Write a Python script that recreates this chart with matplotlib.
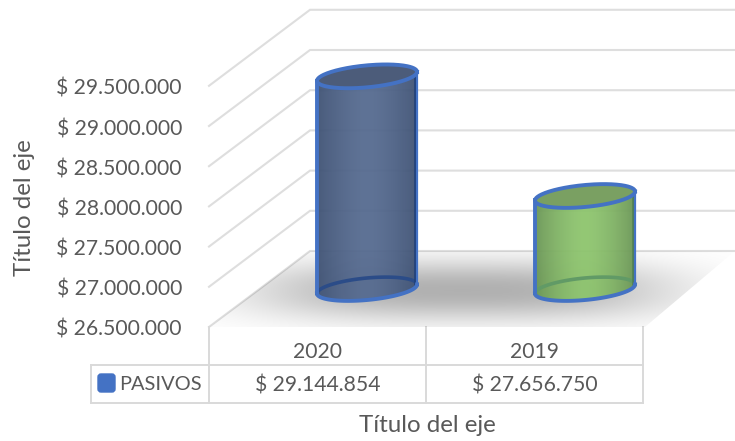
import numpy as np
import matplotlib
matplotlib.use("Agg")
import matplotlib.pyplot as plt
from matplotlib.patches import Polygon, FancyBboxPatch

categories = ["2020", "2019"]
values = [29144854, 27656750]
ticks = [26500000, 27000000, 27500000, 28000000, 28500000, 29000000, 29500000]
series_name = "PASIVOS"
axis_title = "Título del eje"
edge_color = "#4472c4"
dark_edges = ["#1f3f78", "#4f7f52"]
rear_arc = ["#2b4c88", "#619a66"]
mid_cols = ["#566b90", "#8ec56e"]
side_cols = ["#3f5274", "#6a9556"]
top_cols = ["#4c5c7a", "#7aa062"]

W, H = 735, 441
plt.rcParams["font.family"] = ["Lato", "DejaVu Sans"]
fig = plt.figure(figsize=(W / 100, H / 100), dpi=100)
txt = "#595959"
grid = "#dedede"
FS = 15.2

pa = fig.add_axes([0, 0, 1, 1])
pa.set_xlim(0, W); pa.set_ylim(H, 0); pa.axis("off")

PX_PER_UNIT = 40.2 / 500000
x0, dx, dy = 209, 101, 76
front_base = 327
def ypx(v):
    return front_base - (v - ticks[0]) * PX_PER_UNIT

for t in ticks:
    y = ypx(t)
    pa.plot([x0, x0 + dx, W], [y, y - dy, y - dy], color=grid, lw=1.5, zorder=1, solid_joinstyle="miter")

floor = Polygon([(x0, front_base), (x0 + dx, front_base - dy), (W, front_base - dy), (645, front_base)],
                closed=True, fc="white", ec="none", zorder=0.5)
pa.add_patch(floor)
xx, yy = np.meshgrid(np.arange(W), np.arange(H))
sh = np.exp(-(np.abs(xx - 462) / 210.0) ** 3.0)
sv = np.exp(-(np.abs(yy - 290) / 30.0) ** 2.2)
alpha = np.clip(sh * sv * 0.31, 0, 1)
img = np.zeros((H, W, 4)); img[..., 3] = alpha
im = pa.imshow(img, extent=(0, W, H, 0), zorder=1.5, aspect="auto", interpolation="bilinear")
clip_floor = Polygon(floor.get_xy(), closed=True, transform=pa.transData)
im.set_clip_path(clip_floor)
pa.set_xlim(0, W); pa.set_ylim(H, 0)

for t in ticks:
    pa.text(182, ypx(t) + 3, "$ " + f"{t:,}".replace(",", "."), ha="right", va="center",
            fontsize=FS, color=txt)

tc = "#d9d9d9"
for xv in (209, 426, 643):
    pa.plot([xv, xv], [327, 403], color=tc, lw=1.4, zorder=1)
pa.plot([91, 91], [365, 403], color=tc, lw=1.4)
pa.plot([91, 643], [365, 365], color=tc, lw=1.4)
pa.plot([91, 643], [403, 403], color=tc, lw=1.4)
for i, (c, v) in enumerate(zip(categories, values)):
    xc = 318 + i * 216.5
    pa.text(xc, 352, c, ha="center", va="center", fontsize=FS, color=txt)
    pa.text(xc, 385, "$ " + f"{v:,}".replace(",", "."), ha="center", va="center", fontsize=FS, color=txt)
pa.add_patch(FancyBboxPatch((98, 374), 17, 18, boxstyle="round,pad=0,rounding_size=3", fc=edge_color, ec=edge_color, lw=1))
pa.text(119, 385, series_name, ha="left", va="center", fontsize=14.4, color=txt)
pa.text(427, 426, axis_title, ha="center", va="center", fontsize=17.4, color=txt)
pa.text(25, 208, axis_title, ha="center", va="center", rotation=90, fontsize=17.4, color=txt)

ax = fig.add_axes([0, 0, 1, 1], facecolor="none")
ax.axis("off")
sx = 218.0
xl = (-367 / sx, (W - 367) / sx)
bar_base_px = 289
yb = ticks[0] - (H - bar_base_px) / PX_PER_UNIT
yt = ticks[0] + bar_base_px / PX_PER_UNIT
ax.set_xlim(xl); ax.set_ylim(yb, yt)

ahw = 50 / sx
tilt, minor = 4.5 / PX_PER_UNIT, 11.0 / PX_PER_UNIT
t = np.linspace(0, 2 * np.pi, 200)

def ell(i, v, tt):
    return i + ahw * np.cos(tt), v + tilt * np.cos(tt) + minor * np.sin(tt)

def rgb(h):
    return np.array(matplotlib.colors.to_rgb(h))

base = ticks[0]
for i, v in enumerate(values):
    n = 200
    u = np.linspace(-1, 1, n)
    w = (1 - np.abs(u) ** 1.6)[None, :, None]
    rgba = np.zeros((1, n, 4))
    rgba[..., :3] = rgb(side_cols[i]) * (1 - w) + rgb(mid_cols[i]) * w
    rgba[..., 3] = 0.95
    img = ax.imshow(rgba, extent=(i - ahw, i + ahw, base - minor - tilt, v + minor + tilt),
                    aspect="auto", zorder=3, interpolation="bilinear")
    bx, by = ell(i, base, np.linspace(np.pi, 2 * np.pi, 80))
    tx, ty = ell(i, v, np.linspace(0, np.pi, 80))
    body = Polygon(np.column_stack([np.r_[bx, tx], np.r_[by, ty]]), closed=True, transform=ax.transData)
    img.set_clip_path(body)
    ax.plot(*ell(i, base, np.linspace(0, np.pi, 80)), color=rear_arc[i], lw=2.6, zorder=4)
    rx = i + ahw
    ax.plot([rx - 2.4 / sx] * 2, [base + tilt, v + tilt], color=dark_edges[i], lw=1.8, zorder=4)
    ex, ey = ell(i, v, t)
    ax.fill(ex, ey, color=top_cols[i], zorder=5)
    ax.plot(ex, ey, color=edge_color, lw=2.8, zorder=7)
    ax.plot(*ell(i, base, np.linspace(np.pi, 2 * np.pi, 80)), color=edge_color, lw=2.8, zorder=7)
    ax.plot([i - ahw] * 2, [base - tilt, v - tilt], color=edge_color, lw=2.8, zorder=7)
    ax.plot([rx] * 2, [base + tilt, v + tilt], color=edge_color, lw=1.6, zorder=7)

ax.set_xlim(xl); ax.set_ylim(yb, yt)
fig.savefig("out.png", dpi=100, facecolor="white")
